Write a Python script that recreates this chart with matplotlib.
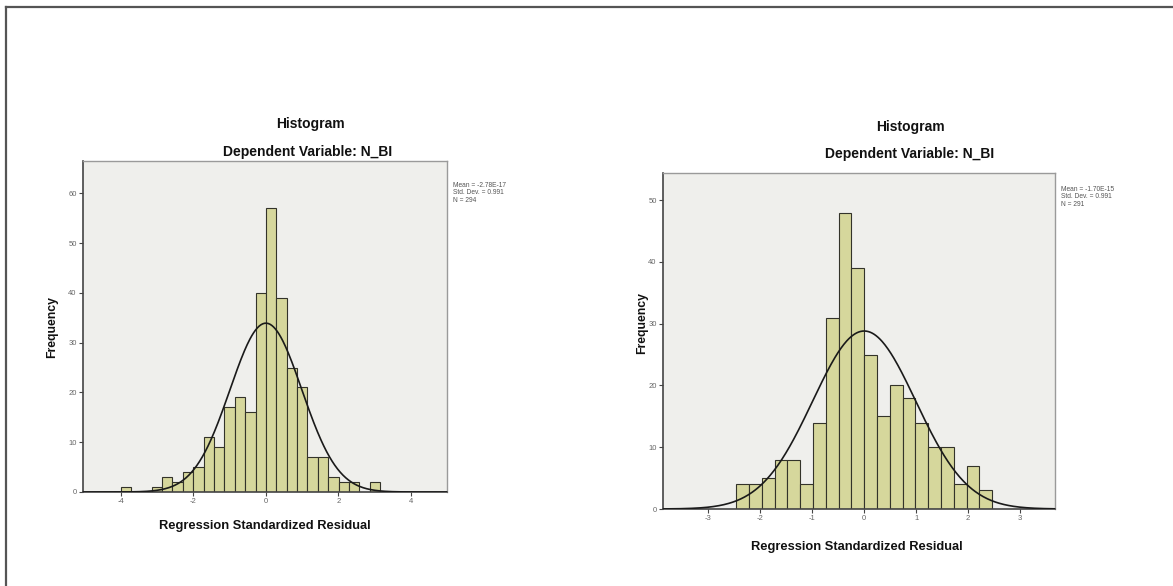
import numpy as np
import matplotlib
matplotlib.use("Agg")
import matplotlib.pyplot as plt
from matplotlib.lines import Line2D

# ---------------- data ----------------
# Left histogram (N = 294)
left_bin_width = 0.2866
left_first_bin = -14          # index of first bin (edge = index * width)
left_counts = [1, 0, 0, 1, 3, 2, 4, 5, 11, 9, 17, 19, 16, 40, 57, 39, 25, 21,
               7, 7, 3, 2, 2, 0, 2]
left_mean, left_sd, left_n = -2.78e-17, 0.991, 294
left_stats = ["Mean = -2.78E-17", "Std. Dev. = 0.991", "N = 294"]
left_xticks = [-4, -2, 0, 2, 4]
left_yticks = [0, 10, 20, 30, 40, 50, 60]

# Right histogram (N = 291)
right_bin_width = 0.246
right_first_bin = -10
right_counts = [4, 4, 5, 8, 8, 4, 14, 31, 48, 39, 25, 15, 20, 18, 14, 10, 10,
                4, 7, 3]
right_mean, right_sd, right_n = -1.70e-15, 0.991, 291
right_stats = ["Mean = -1.70E-15", "Std. Dev. = 0.991", "N = 291"]
right_xticks = [-3, -2, -1, 0, 1, 2, 3]
right_yticks = [0, 10, 20, 30, 40, 50]

title = "Histogram"
subtitle = "Dependent Variable: N_BI"
xlabel = "Regression Standardized Residual"
ylabel = "Frequency"

# ---------------- style ----------------
W, H = 1173, 586
plt.rcParams['font.family'] = ['Liberation Sans', 'DejaVu Sans']
plt.rcParams['axes.unicode_minus'] = False
fig = plt.figure(figsize=(W / 100, H / 100), dpi=100)
fig.patch.set_facecolor("white")

BAR = "#d6d79c"
EDGE = "#33332a"
BG = "#efefec"


def px(x, y):
    return x / W, 1 - y / H


def make_panel(box, counts, first_bin, width, mean, sd, n, xlim, ylim,
               xticks, yticks):
    x0, y0, x1, y1 = box
    ax = fig.add_axes([x0 / W, 1 - y1 / H, (x1 - x0) / W, (y1 - y0) / H])
    ax.set_facecolor(BG)
    idx = np.arange(len(counts)) + first_bin
    lefts = idx * width
    ax.bar(lefts, counts, width=width, align="edge", color=BAR,
           edgecolor=EDGE, linewidth=0.8, zorder=2)
    xs = np.linspace(xlim[0], xlim[1], 400)
    ys = n * width / (sd * np.sqrt(2 * np.pi)) * np.exp(-0.5 * ((xs - mean) / sd) ** 2)
    ax.plot(xs, ys, color="#1a1a1a", linewidth=1.2, zorder=3)
    ax.set_xlim(*xlim)
    ax.set_ylim(*ylim)
    ax.set_xticks(xticks)
    ax.set_yticks(yticks)
    ax.tick_params(axis="both", direction="out", length=3, width=0.8,
                   labelsize=5.5, labelcolor="#666666", color="#444444", pad=1.5)
    for s in ["top", "right"]:
        ax.spines[s].set_color("#9a9a9a")
        ax.spines[s].set_linewidth(1.0)
    for s in ["left", "bottom"]:
        ax.spines[s].set_color("#444444")
        ax.spines[s].set_linewidth(1.2)
    return ax


axL = make_panel((83, 161, 447, 492), left_counts, left_first_bin,
                 left_bin_width, left_mean, left_sd, left_n,
                 (-5.05, 5.0), (0, 66.5), left_xticks, left_yticks)
axR = make_panel((663, 173, 1055, 509), right_counts, right_first_bin,
                 right_bin_width, right_mean, right_sd, right_n,
                 (-3.87, 3.67), (0, 54.4), right_xticks, right_yticks)

# titles / labels
def ftext(x, y, s, **kw):
    fig.text(*px(x, y), s, **kw)

for (tx, ty, sx, sy, stats, stx, sty, xlx, xly, ylx, yly) in [
        (310, 124, 308, 152, left_stats, 453, 182, 265, 526, 52, 327),
        (910, 127, 910, 154, right_stats, 1061, 186, 857, 547, 642, 323)]:
    ftext(tx, ty, title, ha="center", va="center", fontsize=10,
          fontweight="bold", color="#111111")
    ftext(sx, sy, subtitle, ha="center", va="center", fontsize=10,
          fontweight="bold", color="#111111")
    ftext(stx, sty, "\n".join(stats), ha="left", va="top", fontsize=4.8,
          color="#555555", linespacing=1.05)
    ftext(xlx, xly, xlabel, ha="center", va="center", fontsize=9.3,
          fontweight="bold", color="#111111")
    ftext(ylx, yly, ylabel, ha="center", va="center", fontsize=8.8,
          fontweight="bold", color="#111111", rotation=90)

# outer border (top and left lines)
fig.add_artist(Line2D([5.5 / W, 1], [1 - 6.5 / H, 1 - 6.5 / H], color="#555555",
                      linewidth=1.6, transform=fig.transFigure))
fig.add_artist(Line2D([5.5 / W, 5.5 / W], [0, 1 - 6.5 / H], color="#555555",
                      linewidth=1.6, transform=fig.transFigure))

fig.savefig("out.png", dpi=100, facecolor="white")
